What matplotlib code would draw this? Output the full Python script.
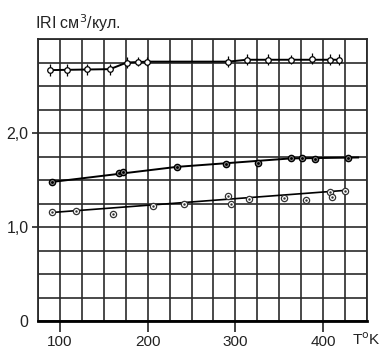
import matplotlib.pyplot as plt
import numpy as np

plt.rcParams['font.family'] = ['Liberation Sans', 'DejaVu Sans']

# верхняя серия (с погрешностями)
t_top = [89, 108, 131, 157, 176, 189, 199, 292, 313, 337, 363, 387, 408, 418]
v_top = [2.67, 2.67, 2.68, 2.68, 2.75, 2.76, 2.76, 2.76, 2.78, 2.78, 2.78, 2.79, 2.78, 2.78]
err_top = [0.06, 0.06, 0.06, 0.06, 0.06, 0.05, 0.05, 0.06, 0.06, 0.06, 0.05, 0.06, 0.06, 0.06]
line_top_t = [89, 157, 176, 199, 292, 313, 418]
line_top_v = [2.67, 2.68, 2.75, 2.76, 2.76, 2.78, 2.78]

# средняя серия
t_mid = [91, 167, 172, 233, 289, 326, 363, 376, 391, 428]
v_mid = [1.48, 1.57, 1.59, 1.64, 1.67, 1.68, 1.73, 1.73, 1.72, 1.73]
line_mid_t = [91, 233, 363, 440]
line_mid_v = [1.48, 1.64, 1.73, 1.74]

# нижняя серия
t_low = [91, 118, 160, 206, 241, 292, 295, 316, 355, 381, 408, 410, 425]
v_low = [1.155, 1.17, 1.135, 1.22, 1.25, 1.33, 1.25, 1.30, 1.31, 1.29, 1.37, 1.32, 1.38]
line_low_t = [91, 425]
line_low_v = [1.155, 1.39]

fig = plt.figure(figsize=(3.85, 3.52), dpi=100)
ax = fig.add_axes([0.099, 0.088, 0.854, 0.801])

gc = '#2a2a2a'
for x in np.arange(75, 451, 25):
    ax.axvline(x, color=gc, lw=1.2, zorder=1)
for y in np.arange(0, 3.01, 0.25):
    ax.axhline(y, color=gc, lw=1.2, zorder=1)

ax.plot(line_top_t, line_top_v, color='black', lw=1.4, zorder=3)
ax.errorbar(t_top, v_top, yerr=err_top, fmt='o', ms=4, mfc='white', mec='black',
            mew=0.9, ecolor='black', elinewidth=0.9, capsize=0, zorder=4)

ax.plot(line_mid_t, line_mid_v, color='black', lw=1.4, zorder=3)
ax.plot(t_mid, v_mid, 'o', ms=4.5, mfc='#888888', mec='black', mew=1.0, zorder=4)
ax.plot(t_mid, v_mid, '.', ms=2, color='black', zorder=5)

ax.plot(line_low_t, line_low_v, color='black', lw=1.2, zorder=3)
ax.plot(t_low, v_low, 'o', ms=4.5, mfc='white', mec='#333333', mew=0.9, zorder=4)
ax.plot(t_low, v_low, '.', ms=1.5, color='#333333', zorder=5)

ax.set_xlim(75, 450)
ax.set_ylim(0, 3.0)
ax.set_xticks([100, 200, 300, 400])
ax.set_xticklabels(['100', '200', '300', '400'])
ax.set_yticks([0, 1.0, 2.0])
ax.set_yticklabels(['0', '1,0', '2,0'])
ax.tick_params(axis='x', length=8, width=1.2, direction='out', pad=2, labelsize=11, colors='#222222')
ax.tick_params(axis='y', length=4, width=1.2, direction='out', pad=3, labelsize=11.5, colors='#222222')
ax.yaxis.get_major_ticks()[0].tick1line.set_visible(False)

for s in ax.spines.values():
    s.set_color(gc)
    s.set_linewidth(1.3)
ax.spines['bottom'].set_linewidth(2.0)
ax.spines['bottom'].set_color('black')

fig.text(0.09, 0.935, 'IRI см$^3$/кул.', fontsize=11.5, color='#222222', va='center')
fig.text(0.915, 0.012, 'T$^{\\mathrm{o}}$K', fontsize=11, color='#222222', va='bottom')

fig.savefig('out.png', dpi=100)
